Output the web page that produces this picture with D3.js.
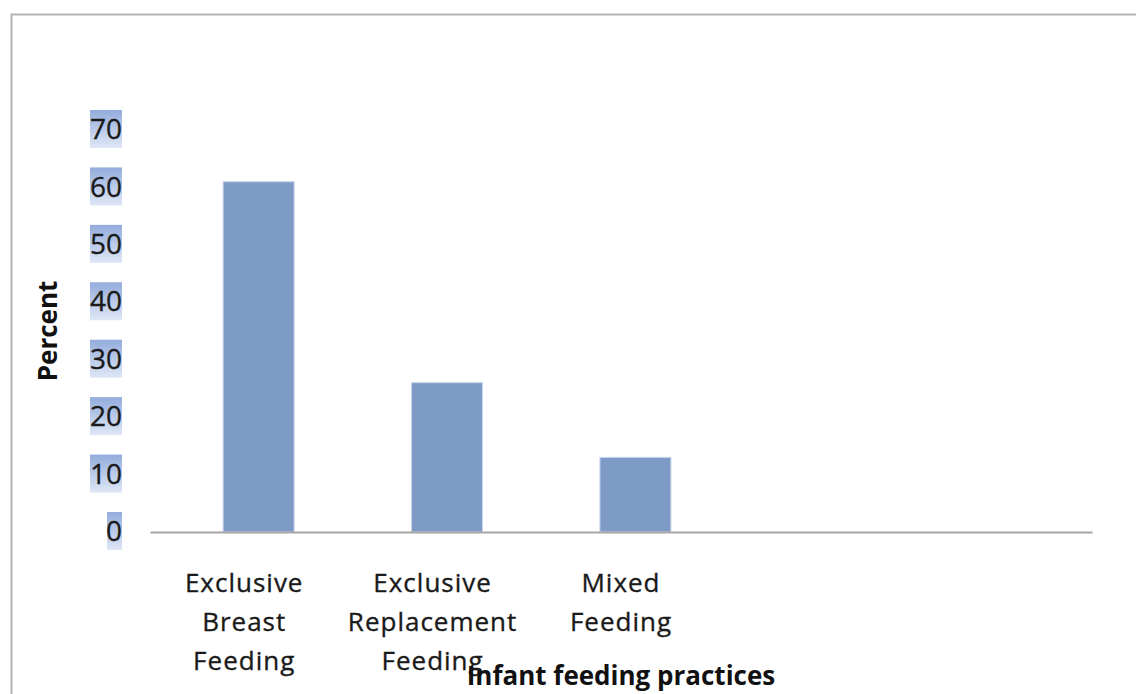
<!DOCTYPE html>
<html>
<head>
<meta charset="utf-8">
<script src="https://cdn.jsdelivr.net/npm/d3@7"></script>
<style>
  html, body { margin: 0; padding: 0; background: #fff; }
  svg { display: block; }
</style>
</head>
<body>
<svg id="chart" width="1136" height="694"></svg>
<script>
// ---- data ----
const categories = ["Exclusive Breast Feeding", "Exclusive Replacement Feeding", "Mixed Feeding"];
const categoryLines = [["Exclusive", "Breast", "Feeding"], ["Exclusive", "Replacement", "Feeding"], ["Mixed", "Feeding"]];
const values = [61, 26, 13];
const slotCount = 5; // category slots on the axis (last two empty)
const yTicks = [0, 10, 20, 30, 40, 50, 60, 70];
const yTitle = "Percent";
const xTitle = "Infant feeding practices";

// ---- layout ----
const W = 1136, H = 694;
const plot = { left: 150, right: 1092, top: 130, bottom: 532 };
const font = "'Open Sans', Lato, sans-serif";

const svg = d3.select("#chart");

const defs = svg.append("defs");
const grad = defs.append("linearGradient").attr("id", "hl").attr("x1", 0).attr("y1", 0).attr("x2", 0).attr("y2", 1);
grad.append("stop").attr("offset", "0%").attr("stop-color", "#93acdc");
grad.append("stop").attr("offset", "100%").attr("stop-color", "#dfe7f6");

// frame
svg.append("path")
  .attr("d", `M11.5,${H} L11.5,14.5 L${W},14.5`)
  .attr("fill", "none").attr("stroke", "#b3b3b3").attr("stroke-width", 2);

const x = d3.scaleBand().domain(d3.range(slotCount)).range([plot.left, plot.right]);
const y = d3.scaleLinear().domain([0, 70]).range([plot.bottom, plot.top]);

const barOffset = x.step() * 0.388;
const barWidth = x.step() * 0.377;

// bars
svg.append("g").selectAll("rect").data(values).join("rect")
  .attr("x", (d, i) => x(i) + barOffset)
  .attr("y", d => y(d))
  .attr("width", barWidth)
  .attr("height", d => y(0) - y(d))
  .attr("fill", "#7e9bc8")
  .attr("stroke", "#c9d6ec").attr("stroke-width", 1);

// x axis line
const xAxis = d3.axisBottom(x).tickSize(0).tickFormat("");
const gx = svg.append("g").attr("transform", `translate(0,${plot.bottom})`).call(xAxis);
gx.select(".domain").attr("stroke", "#a6a6a6").attr("stroke-width", 2);

// y axis tick labels with highlight boxes
const yAxis = d3.axisLeft(y).tickValues(yTicks).tickSize(0).tickPadding(0);
const gy = svg.append("g").attr("transform", `translate(122,-1.5)`).call(yAxis);
gy.select(".domain").remove();
gy.selectAll(".tick text")
  .attr("font-family", font).attr("font-size", 28).attr("fill", "#1a1a1a")
  .attr("stroke", "#1a1a1a").attr("stroke-width", 0.35)
  .attr("dy", "0.36em");
gy.selectAll(".tick").each(function(d) {
  const t = d3.select(this);
  const w = d === 0 ? 15 : 32;
  t.insert("rect", "text")
    .attr("x", -w).attr("y", -19)
    .attr("width", w).attr("height", 38)
    .attr("fill", "url(#hl)");
});

// category labels
const lab = svg.append("g");
categoryLines.forEach((lines, i) => {
  const cx = x(i) + x.bandwidth() / 2;
  const t = lab.append("text")
    .attr("font-family", font).attr("font-size", 26).attr("fill", "#1a1a1a")
    .attr("stroke", "#1a1a1a").attr("stroke-width", 0.35)
    .attr("letter-spacing", 1)
    .attr("text-anchor", "middle");
  lines.forEach((ln, k) => {
    t.append("tspan").attr("x", cx).attr("y", 592 + k * 39).text(ln);
  });
});

// axis titles
svg.append("text")
  .attr("transform", `translate(57,331) rotate(-90)`)
  .attr("text-anchor", "middle")
  .attr("font-family", font).attr("font-weight", "bold").attr("font-size", 26).attr("fill", "#111")
  .text(yTitle);

svg.append("text")
  .attr("x", 621).attr("y", 685)
  .attr("text-anchor", "middle")
  .attr("font-family", font).attr("font-weight", "bold").attr("font-size", 26).attr("fill", "#111")
  .text(xTitle);
</script>
</body>
</html>
